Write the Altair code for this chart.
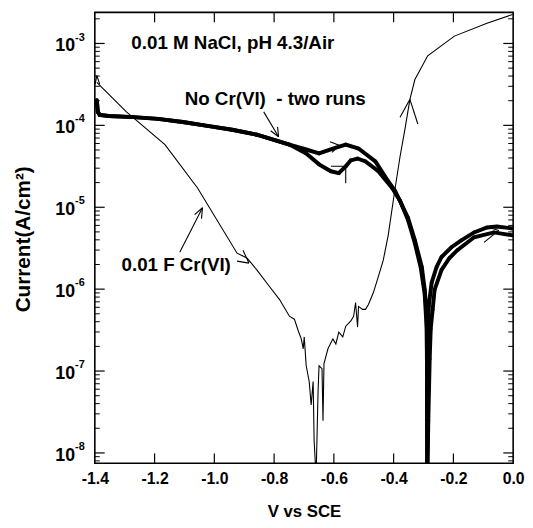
import altair as alt
import pandas as pd
import numpy as np

FONT = "Liberation Sans"

# ---- 0.01 F Cr(VI) curve (thin line) ----
cr_v = [-1.3934, -1.2942, -1.1653, -1.0562, -0.924, -0.8909, -0.8579, -0.8149, -0.7818,
        -0.7488, -0.7322, -0.719, -0.7091, -0.7025, -0.6992, -0.6926, -0.6826, -0.676, -0.6694,
        -0.6661, -0.6595, -0.6529, -0.6496, -0.6397, -0.6364, -0.6331, -0.6198, -0.6033, -0.5934,
        -0.5835, -0.5702, -0.5603, -0.5438, -0.5339, -0.5273, -0.5207, -0.5174, -0.5041, -0.4942,
        -0.4843, -0.4678, -0.4512, -0.4347, -0.4182, -0.395, -0.3785, -0.362, -0.3455, -0.3289,
        -0.286, -0.1967, -0.0876, -0.0017]
cr_i = [3.34e-4, 1.46e-4, 5.82e-5, 1.72e-5, 2.75e-6, 2.40e-6, 1.72e-6, 1.07e-6, 7.46e-7,
        4.67e-7, 4.30e-7, 3.08e-7, 2.47e-7, 1.87e-7, 2.61e-7, 1.16e-7, 7.46e-8, 3.84e-8, 7.46e-8,
        1.42e-8, 5.0e-9, 5.66e-8, 1.16e-7, 1.07e-7, 2.47e-8, 1.23e-7, 1.87e-7, 2.47e-7, 2.14e-7,
        2.99e-7, 2.61e-7, 3.53e-7, 4.06e-7, 4.67e-7, 6.87e-7, 3.44e-7, 6.15e-7, 5.66e-7, 5.66e-7,
        6.50e-7, 9.08e-7, 1.42e-6, 2.26e-6, 4.54e-6, 1.72e-5, 4.17e-5, 9.08e-5, 2.08e-4, 3.63e-4,
        7.06e-4, 1.23e-3, 1.77e-3, 2.26e-3]

# ---- No Cr(VI), run 1 ----
run1_v = [-1.3934, -1.390, -1.3835, -1.3537, -1.2711, -1.1884, -1.1058, -1.0231, -0.9405, -0.8579,
          -0.7488, -0.6926, -0.6496, -0.6033, -0.5603, -0.5174, -0.4612, -0.4182, -0.395, -0.3521,
          -0.3289, -0.3058, -0.2959, -0.2893, -0.2883, -0.2883, -0.2880, -0.2860, -0.2840, -0.2827,
          -0.2728, -0.2562, -0.2397, -0.2066, -0.1736, -0.1306, -0.0876, -0.0545, -0.0017]
run1_i = [2.03e-4, 1.46e-4, 1.34e-4, 1.30e-4, 1.26e-4, 1.20e-4, 1.10e-4, 9.86e-5, 8.83e-5, 7.69e-5,
          5.82e-5, 5.07e-5, 4.54e-5, 5.21e-5, 5.82e-5, 5.21e-5, 3.63e-5, 2.08e-5, 1.58e-5, 7.46e-6,
          3.94e-6, 1.87e-6, 9.86e-7, 4.67e-7, 1.41e-7, 2.69e-8, 5.0e-9, 3.98e-8, 2.0e-7, 6.15e-7,
          1.20e-6, 1.87e-6, 2.47e-6, 3.25e-6, 3.94e-6, 4.93e-6, 5.66e-6, 5.82e-6, 5.51e-6]

# ---- No Cr(VI), run 2 ----
run2_v = [-1.3934, -1.390, -1.3835, -1.3537, -1.2711, -1.1884, -1.1058, -1.0231, -0.9405, -0.8579,
          -0.7488, -0.6926, -0.6496, -0.6099, -0.5835, -0.5603, -0.5438, -0.5207, -0.4942, -0.4512,
          -0.405, -0.3785, -0.3521, -0.3289, -0.3091, -0.2959, -0.2893, -0.2876, -0.2870, -0.2840,
          -0.2794, -0.2760, -0.2694, -0.2628, -0.2397, -0.2132, -0.1868, -0.1306, -0.0645, -0.0017]
run2_i = [2.03e-4, 1.46e-4, 1.34e-4, 1.30e-4, 1.26e-4, 1.20e-4, 1.10e-4, 9.86e-5, 8.83e-5, 7.69e-5,
          5.82e-5, 4.54e-5, 3.34e-5, 2.75e-5, 2.61e-5, 3.16e-5, 3.73e-5, 3.94e-5, 3.63e-5, 2.75e-5,
          1.72e-5, 1.20e-5, 7.06e-6, 3.63e-6, 1.82e-6, 8.59e-7, 3.25e-7, 4.68e-8, 5.0e-9, 2.5e-8,
          1.41e-7, 3.25e-7, 5.66e-7, 9.86e-7, 1.72e-6, 2.40e-6, 2.99e-6, 4.30e-6, 4.93e-6, 4.54e-6]

# ---- annotation arrows / direction marks (segments in data units) ----
seg_v = [-0.8347, -0.7884, -0.8116, -1.1157, -1.043, -1.0661, -0.9041, -0.924, -0.3785, -0.3190,
         -0.6132, -0.6066, -0.6099, -0.5603, -0.0975, -0.0909, -1.399, -1.3835]
seg_i = [1.46e-4, 9.59e-5, 8.59e-5, 2.83e-6, 7.26e-6, 8.13e-6, 2.99e-6, 2.20e-6, 1.26e-4, 1.04e-4,
         6.32e-5, 4.67e-5, 3.16e-5, 3.16e-5, 3.73e-6, 5.82e-6, 3.16e-4, 3.16e-4]
seg_v2 = [-0.7851, -0.7851, -0.7851, -1.0397, -1.0397, -1.0397, -0.8843, -0.8843, -0.3455, -0.3455,
          -0.5802, -0.5802, -0.5603, -0.5603, -0.048, -0.048, -1.3934, -1.3934]
seg_i2 = [7.26e-5, 7.26e-5, 7.26e-5, 9.86e-6, 9.86e-6, 9.86e-6, 2.08e-6, 2.08e-6, 2.08e-4, 2.08e-4,
          5.66e-5, 5.66e-5, 3.16e-5, 1.97e-5, 5.21e-6, 5.21e-6, 4.06e-4, 4.06e-4]

# ---- text annotations ----
ann_text = ["0.01 M NaCl, pH 4.3/Air", "No Cr(VI)\u00a0\u00a0- two runs", "0.01 F Cr(VI)"]
ann_v = [-1.2777, -1.0993, -1.3107]
ann_i = [1.0e-3, 2.08e-4, 1.97e-6]

# ---- axes ----
x_ticks = [-1.4, -1.2, -1.0, -0.8, -0.6, -0.4, -0.2, 0.0]
x_inner_ticks = [-1.2, -1.0, -0.8, -0.6, -0.4, -0.2]
y_exps = [-8, -7, -6, -5, -4, -3]
Y_DOMAIN = [7.47e-9, 2.395e-3]
X_DOMAIN = [-1.4, 0.0]

W, H = 424, 457

y_major = [10.0 ** e for e in y_exps]
y_minor = [k * 10.0 ** e for e in range(-9, -2) for k in range(2, 10)
           if Y_DOMAIN[0] < k * 10.0 ** e < Y_DOMAIN[1]]

x_enc = alt.X("v:Q", scale=alt.Scale(domain=X_DOMAIN, nice=False, zero=False),
              axis=alt.Axis(values=x_ticks, format=".1f",
                            labelExpr="replace(format(datum.value, '.1f'), '\u2212', '-')",
                            ticks=False, domain=False, grid=False, title="V vs SCE",
                            labelFont=FONT, labelFontSize=16, labelFontWeight="bold",
                            labelColor="black", labelPadding=7, labelFlush=False,
                            titleFont=FONT, titleFontSize=17, titleFontWeight="bold",
                            titleColor="black", titlePadding=18))
y_enc = alt.Y("i:Q", scale=alt.Scale(type="log", domain=Y_DOMAIN, nice=False), axis=None)


def df_line(v, i, name):
    return pd.DataFrame({"v": v, "i": i, "idx": list(range(len(v))), "s": name})


cr_df = df_line(cr_v, cr_i, "cr")
r1_df = df_line(run1_v, run1_i, "r1")
r2_df = df_line(run2_v, run2_i, "r2")
runs_df = pd.concat([r1_df, r2_df], ignore_index=True)

thin = alt.Chart(cr_df).mark_line(color="black", strokeWidth=1.1, clip=True).encode(
    x=x_enc, y=y_enc, order="idx:Q")

thick = alt.Chart(runs_df).mark_line(color="black", strokeWidth=4, clip=True).encode(
    x=x_enc, y=y_enc, detail="s:N", order="idx:Q")

dots = alt.Chart(runs_df).mark_circle(color="black", size=14, opacity=1, clip=True).encode(
    x=x_enc, y=y_enc)

seg_df = pd.DataFrame({"v": seg_v, "i": seg_i, "v2": seg_v2, "i2": seg_i2})
segs = alt.Chart(seg_df).mark_rule(color="black", strokeWidth=1.1, clip=True).encode(
    x=x_enc, y=y_enc, x2="v2:Q", y2="i2:Q")

ann_df = pd.DataFrame({"v": ann_v, "i": ann_i, "t": ann_text})
ann = alt.Chart(ann_df).mark_text(align="left", baseline="middle", font=FONT, fontSize=19,
                                   fontWeight="bold", color="black").encode(
    x=x_enc, y=y_enc, text="t:N")

# inward ticks
xt_df = pd.DataFrame({"v": x_inner_ticks})
xt_bottom = alt.Chart(xt_df).mark_rule(color="black", strokeWidth=1.2).encode(
    x=x_enc, y=alt.value(H), y2=alt.value(H - 10))
xt_top = alt.Chart(xt_df).mark_rule(color="black", strokeWidth=1.2).encode(
    x=x_enc, y=alt.value(0), y2=alt.value(10))

ymaj_df = pd.DataFrame({"i": y_major})
ymin_df = pd.DataFrame({"i": y_minor})
yt_l_maj = alt.Chart(ymaj_df).mark_rule(color="black", strokeWidth=1.2).encode(
    y=y_enc, x=alt.value(0), x2=alt.value(10))
yt_r_maj = alt.Chart(ymaj_df).mark_rule(color="black", strokeWidth=1.2).encode(
    y=y_enc, x=alt.value(W), x2=alt.value(W - 10))
yt_l_min = alt.Chart(ymin_df).mark_rule(color="black", strokeWidth=1).encode(
    y=y_enc, x=alt.value(0), x2=alt.value(5))
yt_r_min = alt.Chart(ymin_df).mark_rule(color="black", strokeWidth=1).encode(
    y=y_enc, x=alt.value(W), x2=alt.value(W - 5))

# y tick labels: "10" with superscript exponent
ylab_df = pd.DataFrame({"i": y_major, "base": ["10"] * len(y_exps),
                        "exp": [str(e) for e in y_exps]})
ylab_base = alt.Chart(ylab_df).mark_text(align="right", baseline="middle", dy=3, font=FONT,
                                         fontSize=18, fontWeight="bold", color="black").encode(
    y=y_enc, x=alt.value(-20), text="base:N")
ylab_exp = alt.Chart(ylab_df).mark_text(align="left", baseline="middle", dy=-6, font=FONT,
                                        fontSize=11, fontWeight="bold", color="black").encode(
    y=y_enc, x=alt.value(-20), text="exp:N")

ytitle_df = pd.DataFrame({"t": ["Current(A/cm²)"]})
ytitle = alt.Chart(ytitle_df).mark_text(angle=270, align="center", baseline="middle", font=FONT,
                                        fontSize=21, fontWeight="bold", color="black").encode(
    x=alt.value(-72), y=alt.value(230), text="t:N")

chart = alt.layer(
    thin, thick, dots, segs, ann, xt_bottom, xt_top, yt_l_maj, yt_r_maj, yt_l_min, yt_r_min,
    ylab_base, ylab_exp, ytitle
).properties(
    width=W, height=H,
    autosize=alt.AutoSizeParams(type="none"),
    padding={"left": 88, "top": 1, "right": 12, "bottom": 54},
    background="white",
).configure_view(stroke="black", strokeWidth=1.6)

chart.save("out.html", embed_options={"renderer": "svg", "actions": False})
